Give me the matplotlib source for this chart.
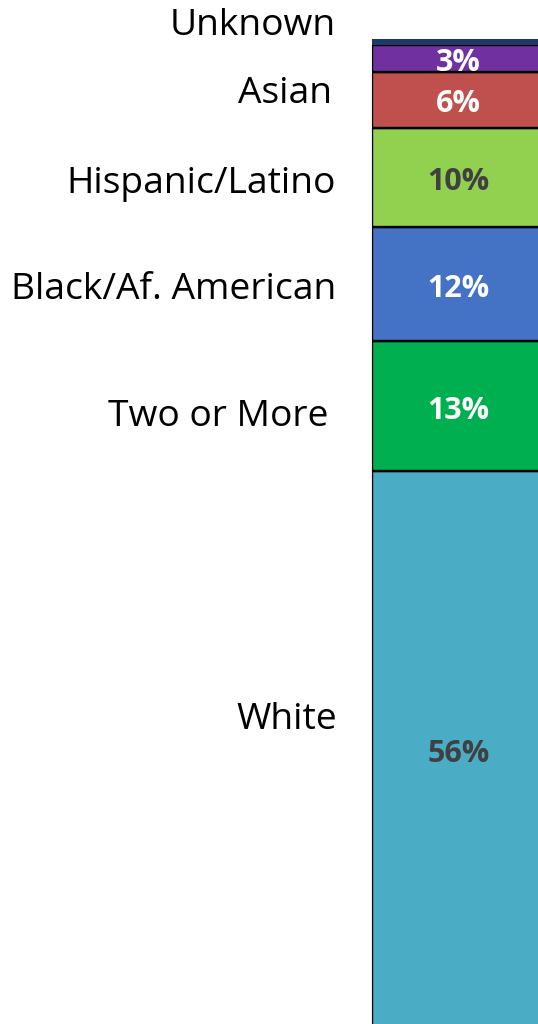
import matplotlib
matplotlib.use("Agg")
import matplotlib.pyplot as plt
import matplotlib.transforms as mtransforms

# Data (bottom to top of the stacked bar)
categories = ["White", "Two or More", "Black/Af. American", "Hispanic/Latino", "Asian", "Other", "Unknown"]
shares = [56.3, 13.1, 11.6, 10.0, 5.7, 2.7, 0.6]
show_value = [True, True, True, True, True, True, False]
side_labels = ["White", "Two or More", "Black/Af. American", "Hispanic/Latino", "Asian", "", "Unknown"]

# Style
colors = ["#4BACC6", "#00B050", "#4472C4", "#92D050", "#C0504D", "#7030A0", "#203864"]
value_colors = ["#404040", "white", "white", "#404040", "white", "white", "white"]
edge_on = [True, True, True, True, True, True, False]
# layout: side label baselines (figure pixel y from top) and right edges
label_base_px = [729, 426, 299, 193, 103, None, 35]
label_x_px = [337, 328, 336, 336, 332, None, 336]

CAP = 0.714  # cap height ratio of Open Sans
VAL_FS = 22
LAB_FS = 26.8

W, H = 538, 1024
fig = plt.figure(figsize=(W / 100, H / 100), dpi=100)
ax = fig.add_axes([372 / W, -3 / H, 1 - 372 / W, (H - 39 + 3) / H])
ax.set_xlim(0, 1)
ax.set_ylim(0, sum(shares))

val_trans = mtransforms.offset_copy(ax.transData, fig=fig, x=0, y=-CAP * VAL_FS / 2 - 1.3, units="points")

bottom = 0.0
for cat, v, c, e, sv, vc in zip(categories, shares, colors, edge_on, show_value, value_colors):
    ax.bar(0, v, width=2.0, bottom=bottom, align="edge", color=c,
           edgecolor="black" if e else c, linewidth=1.7 if e else 0, zorder=2)
    if sv:
        ax.text(0.52, bottom + v / 2, f"{round(v)}%", ha="center", va="baseline",
                transform=val_trans, color=vc, fontsize=VAL_FS, fontweight="bold",
                family="Open Sans", zorder=3)
    bottom += v

for lab, ly, lx in zip(side_labels, label_base_px, label_x_px):
    if lab and ly is not None:
        fig.text(lx / W, 1 - ly / H, lab, ha="right", va="baseline", fontsize=LAB_FS,
                 family="Open Sans", color="black")

ax.axis("off")
ax.plot([0, 0], [0, sum(shares) - shares[-1]], color="#A0A0A0", lw=1.0, zorder=1, clip_on=False)
fig.savefig("out.png", dpi=100)
